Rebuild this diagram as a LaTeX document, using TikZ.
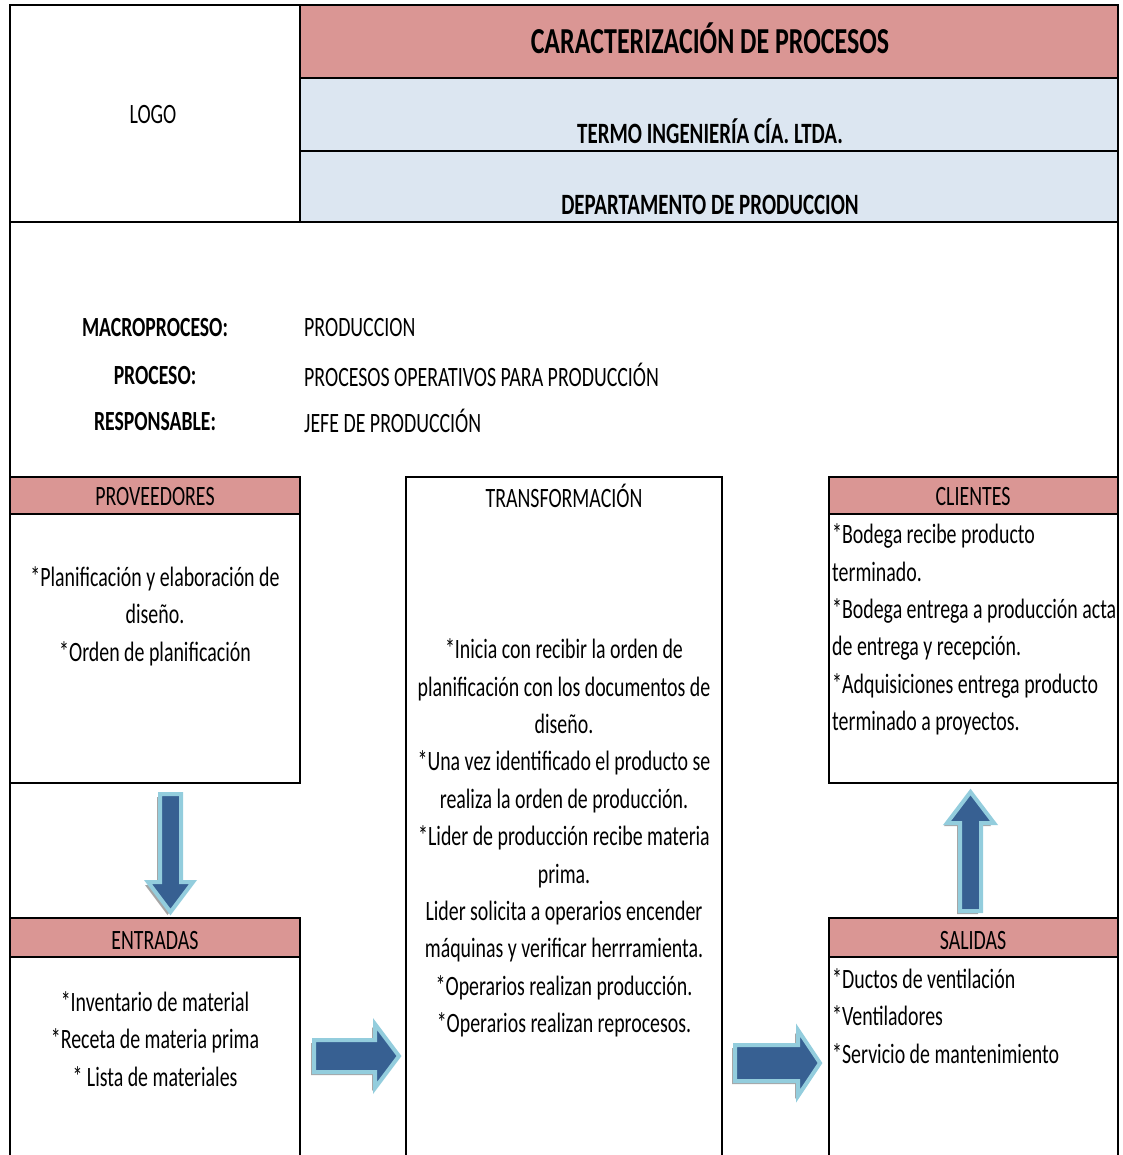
\documentclass[tikz,border=0pt]{standalone}
\usepackage{fontspec}
\setmainfont{Carlito}[FakeStretch=0.71]
\usetikzlibrary{shadows}

\definecolor{rosehdr}{HTML}{DA9694}
\definecolor{palecell}{HTML}{DCE6F1}
\definecolor{arrowfill}{HTML}{376092}
\definecolor{arrowedge}{HTML}{93CDDD}

\tikzset{
  grid/.style={draw=black, line width=2.7pt, line cap=rect},
  txt/.style={inner sep=0pt, font=\fontsize{28}{37.4}\selectfont},
  hdr/.style={inner sep=0pt, font=\bfseries\fontsize{29.5}{36}\selectfont},
  lbl/.style={inner sep=0pt, font=\bfseries\fontsize{27.7}{36}\selectfont},
  blockarrow/.style={fill=arrowfill, draw=arrowedge, line width=4pt, line join=miter,
    drop shadow={shadow xshift=-3pt, shadow yshift=-3pt, fill=black, opacity=0.35}},
}

\begin{document}
\begin{tikzpicture}[x=1pt,y=-1pt]
\useasboundingbox (0,0) rectangle (1122,1155);

% cell fills
\fill[rosehdr]  (300,5)   rectangle (1118,78);
\fill[palecell] (300,78)  rectangle (1118,151);
\fill[palecell] (300,151) rectangle (1118,222);
\fill[rosehdr]  (10,477)  rectangle (300,514);
\fill[rosehdr]  (829,477) rectangle (1118,514);
\fill[rosehdr]  (10,918)  rectangle (300,957);
\fill[rosehdr]  (829,918) rectangle (1118,957);

% frame and header grid
\draw[grid] (10,1160) -- (10,5) -- (1118,5) -- (1118,1160);
\draw[grid] (300,5) -- (300,222);
\draw[grid] (300,78) -- (1118,78);
\draw[grid] (300,151) -- (1118,151);
\draw[grid] (10,222) -- (1118,222);

% proveedores / entradas column
\draw[grid] (10,477) -- (300,477) -- (300,783) -- (10,783);
\draw[grid] (10,514) -- (300,514);
\draw[grid] (10,918) -- (300,918) -- (300,1160);
\draw[grid] (10,957) -- (300,957);

% transformacion column
\draw[grid] (406,1160) -- (406,477) -- (722,477) -- (722,1160);

% clientes / salidas column
\draw[grid] (1118,477) -- (829,477) -- (829,783) -- (1118,783);
\draw[grid] (829,514) -- (1118,514);
\draw[grid] (1118,918) -- (829,918) -- (829,1160);
\draw[grid] (829,957) -- (1118,957);

% block arrows
\filldraw[blockarrow] (160,794) -- (181,794) -- (181,882) -- (193,882) -- (170.5,912)
  -- (148,882) -- (160,882) -- cycle;
\filldraw[blockarrow] (960,911) -- (981,911) -- (981,823) -- (994,823) -- (970.5,792)
  -- (947,823) -- (960,823) -- cycle;
\filldraw[blockarrow] (314,1040) -- (375,1040) -- (375,1024) -- (399,1056) -- (375,1088)
  -- (375,1072) -- (314,1072) -- cycle;
\filldraw[blockarrow] (735,1045) -- (798,1045) -- (798,1030) -- (820,1063) -- (798,1096)
  -- (798,1081) -- (735,1081) -- cycle;

% header texts
\node[txt] (logo) at (153,115) {LOGO};
\node[inner sep=0pt, font=\bfseries\fontsize{36.6}{40}\selectfont] (title) at (710,38) {CARACTERIZACIÓN DE PROCESOS};
\node[hdr] (company) at (710,131) {TERMO INGENIERÍA CÍA. LTDA.};
\node[hdr] (dept) at (710,205) {DEPARTAMENTO DE PRODUCCION};

% process data
\node[lbl] (macrolbl) at (155,328) {MACROPROCESO:};
\node[lbl] (proclbl)  at (155,376) {PROCESO:};
\node[lbl] (resplbl)  at (155,422) {RESPONSABLE:};
\node[txt, anchor=west] (macroval) at (304,328) {PRODUCCION};
\node[txt, anchor=west] (procval)  at (304,375) {PROCESOS OPERATIVOS PARA PRODUCCIÓN};
\node[txt, anchor=west] (respval)  at (304,421) {JEFE DE PRODUCCIÓN};

% column headings
\node[txt] (provhdr)   at (155,497) {PROVEEDORES};
\node[txt] (transfhdr) at (564,496) {TRANSFORMACIÓN};
\node[txt] (clihdr)    at (973,497) {CLIENTES};
\node[txt] (enthdr)    at (155,940) {ENTRADAS};
\node[txt] (salhdr)    at (973,940) {SALIDAS};

% column contents
\node[txt, align=center] (provbody) at (155,616)
  {*Planificación y elaboración de\\diseño.\\*Orden de planificación};
\node[txt, align=center] (transfbody) at (564,838)
  {*Inicia con recibir la orden de\\planificación con los documentos de\\diseño.\\
   *Una vez identificado el producto se\\realiza la orden de producción.\\
   *Lider de producción recibe materia\\prima.\\
   Lider solicita a operarios encender\\máquinas y verificar herrramienta.\\
   *Operarios realizan producción.\\*Operarios realizan reprocesos.};
\node[txt, align=left, anchor=west] (clibody) at (832,629.5)
  {*Bodega recibe producto\\terminado.\\*Bodega entrega a producción acta\\
   de entrega y recepción.\\*Adquisiciones entrega producto\\terminado a proyectos.};
\node[txt, align=center] (entbody) at (155,1039)
  {*Inventario de material\\*Receta de materia prima\\* Lista de materiales};
\node[txt, align=left, anchor=west] (salbody) at (832,1016)
  {*Ductos de ventilación\\*Ventiladores\\*Servicio de mantenimiento};
\end{tikzpicture}
\end{document}
